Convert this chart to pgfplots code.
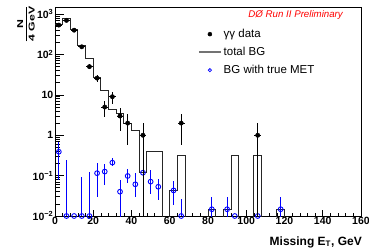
\documentclass[border=0pt]{standalone}
\usepackage{fontspec}
\setmainfont{Liberation Sans}
\usepackage{amsmath}
\usepackage{pgfplots}
\pgfplotsset{compat=1.18}
\usetikzlibrary{calc}
\definecolor{rootblue}{RGB}{0,0,255}

\pgfplotstableread{
x y ex ep em
2 535 1.8 23.1 23.1
6 700 1.8 26.5 26.5
10 400 1.8 20 20
14 155 1.8 12.4 12.4
18 50 1.8 7.1 7.1
22 26 1.8 5.1 5.1
26 5 1.8 2.24 2.24
30 9 1.8 3 3
34 3 1.8 1.73 1.73
38 2 1.8 1.41 1.41
46 1 1.8 1 0.999
66 2 1.8 1.41 1.41
106 1 1.8 1 0.999
}\datatab

\pgfplotstableread{
x y ep em
2 0.39 0.30 0.31
6 0.01 0.235 0
10 0.01 0 0
14 0.01 0.083 0
18 0.01 0.116 0
22 0.115 0.085 0.085
26 0.126 0.064 0.068
30 0.21 0.06 0.04
34 0.04 0.038 0.0399
38 0.098 0.045 0.031
42 0.061 0.053 0.031
46 0.118 0.062 0.041
50 0.071 0.067 0.035
54 0.053 0.028 0.028
62 0.043 0.032 0.024
66 0.01 0.016 0
82 0.0147 0.0146 0.0146
90 0.0147 0.0146 0.0146
94 0.01 0 0
106 0.01 0 0
118 0.0147 0.0153 0.0146
}\mettab

\begin{document}
\begin{tikzpicture}
\begin{axis}[
  scale only axis, width=306pt, height=209pt,
  xmin=0, xmax=160, ymode=log, ymin=0.01, ymax=1500,
  axis line style={line width=0.8pt},
  xtick={0,20,...,160}, minor x tick num=4,
  ytick={0.01,0.1,1,10,100,1000},
  yticklabels={10\textsuperscript{−2},10\textsuperscript{−1},1,10,10\textsuperscript{2},10\textsuperscript{3}},
  tick align=inside, xtick pos=bottom, ytick pos=left,
  xtick style={/pgfplots/major tick length=6pt,/pgfplots/minor tick length=3pt, black, line width=0.6pt},
  ytick style={/pgfplots/major tick length=9pt,/pgfplots/minor tick length=4.5pt, black, line width=0.6pt},
  ticklabel style={font=\fontsize{10.5}{12}\selectfont\bfseries},
  /pgf/number format/assume math mode=true,
  xticklabel style={inner sep=1pt},
  yticklabel style={inner sep=1.5pt},
  clip mode=individual,
  legend style={draw=none, fill=none, at={(rel axis cs:0.467,0.907)}, anchor=north west,
     font=\fontsize{11.5}{13}\selectfont, row sep=3pt, inner sep=0pt,
     nodes={text height=8.5pt, text depth=2.5pt, inner sep=2pt},
     /tikz/every even column/.append style={column sep=2pt}},
  legend cell align=left,
]
\addlegendimage{legend image code/.code={\draw[black, fill=black] plot[mark=*, mark size=2pt] coordinates {(11pt,0pt)};}}
\addlegendentry{γγ data}
\addlegendimage{legend image code/.code={\draw[black!55, line width=1.6pt] (0pt,0pt) -- (22pt,0pt);}}
\addlegendentry{total BG}
\addlegendimage{legend image code/.code={\draw[rootblue, line width=0.8pt] plot[mark=o, mark size=1.6pt] coordinates {(11pt,0pt)};}}
\addlegendentry{BG with true MET}

\addplot[const plot, black!85, line width=0.9pt, forget plot] coordinates {
(0,560)(4,760)(8,420)(12,168)(16,79)(20,27)(24,13)(28,4.4)(32,3.5)(36,2.0)(40,1.3)(44,0.117)(48,0.39)(52,0.39)(56,1e-5)(60,0.044)(64,0.32)(68,1e-5)(80,0.0147)(84,1e-5)(88,0.0147)(92,0.32)(96,1e-5)(104,0.32)(108,1e-5)(116,0.0147)(120,1e-5)(160,1e-5)};

\addplot[only marks, mark=o, mark size=2.4pt, rootblue, line width=0.9pt, forget plot,
  error bars/.cd, y dir=both, y explicit, error mark=none,
  error bar style={line width=0.9pt, rootblue}]
  table[x=x, y=y, y error plus=ep, y error minus=em] {\mettab};

\addplot[only marks, mark=*, mark size=2.2pt, black, forget plot,
  error bars/.cd, y dir=both, y explicit, x dir=both, x explicit, error mark=none,
  error bar style={line width=0.9pt, black}]
  table[x=x, y=y, x error=ex, y error plus=ep, y error minus=em] {\datatab};

\end{axis}
\node[anchor=north east, inner sep=0pt, text=red, font=\fontsize{9.7}{11}\selectfont\itshape]
  at ($(current axis.north west)+(288pt,-3pt)$) {DØ Run II Preliminary};
\node[anchor=base east, inner sep=0pt, font=\fontsize{12}{14}\selectfont\bfseries]
  at ($(current axis.south east)+(1pt,-29pt)$) {Missing E\textsubscript{T}, GeV};
\node[rotate=90, inner sep=0pt, font=\fontsize{8.5}{10}\selectfont\bfseries]
  at ($(current axis.north west)+(-29pt,-17pt)$) {\scalebox{1.45}[1]{$\dfrac{\text{N}}{\text{4 GeV}}$}};
\pgfresetboundingbox
\path[use as bounding box] ($(current axis.south west)+(-55pt,-34pt)$) rectangle ($(current axis.north east)+(8pt,7pt)$);
\end{tikzpicture}
\end{document}
